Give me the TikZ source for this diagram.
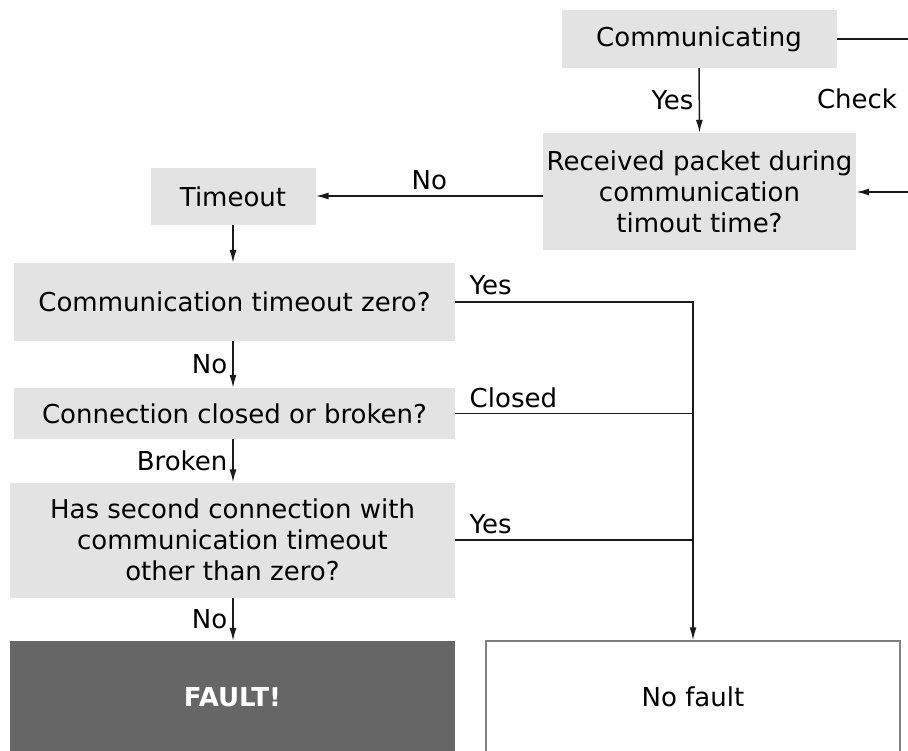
\documentclass[tikz,border=0pt]{standalone}
\usepackage{fontspec}
\setmainfont{DejaVu Sans}
\usetikzlibrary{arrows.meta,calc}
\definecolor{boxgray}{HTML}{E3E3E3}
\definecolor{faultgray}{HTML}{666666}
\definecolor{wiregray}{HTML}{1A1A1A}
\tikzset{
  box/.style={rectangle, fill=boxgray, inner sep=0pt, align=center},
  wire/.style={draw=wiregray, line width=1.5pt},
  arr/.style={wire, -{Latex[length=13pt,width=7pt]}},
  lbl/.style={inner sep=5pt}
}
\begin{document}
\begin{tikzpicture}[x=1pt,y=-1pt,font=\fontsize{26}{31}\selectfont]
  \useasboundingbox (0,0) rectangle (908,751);
  % boxes
  \node[box, minimum width=275, minimum height=58] (comm) at (699,39) {Communicating};
  \node[box, minimum width=313, minimum height=117] (recv) at (699.5,191.5)
    {Received packet during\\communication\\timout time?};
  \node[box, minimum width=165, minimum height=57] (tout) at (233,196.5) {Timeout};
  \node[box, minimum width=441, minimum height=78] (zero) at (234.5,302) {Communication timeout zero?};
  \node[box, minimum width=441, minimum height=51] (closed) at (234.5,413.5) {Connection closed or broken?};
  \node[box, minimum width=445, minimum height=115] (second) at (232.5,540)
    {Has second connection with\\communication timeout\\other than zero?};
  \node[box, fill=faultgray, text=white, font=\fontsize{26}{31}\selectfont\bfseries,
    minimum width=445, minimum height=112] (fault) at (232.5,697) {FAULT!};
  \node[rectangle, draw=gray, line width=1.5pt, inner sep=0pt,
    minimum width=414, minimum height=112] (nofault) at (693,697) {No fault};
  % check loop on the right
  \coordinate (chkA) at (908,39);
  \coordinate (chkB) at (908,192);
  \draw[wire] (comm.east) -- (chkA);
  \draw[arr] (chkB) -- (recv.east |- chkB);
  \node (check) at (857,99) {Check};
  % main flow
  \draw[arr] (comm.south) -- node[lbl, left] {Yes} (recv.north);
  \draw[arr] (recv.west |- 0,196) -- node[lbl, above] {No} (tout.east |- 0,196);
  \draw[arr] (tout.south) -- (tout.south |- zero.north);
  \draw[arr] (tout.south |- zero.south) -- node[lbl, left] {No} (tout.south |- closed.north);
  \draw[arr] (tout.south |- closed.south) -- node[lbl, left] {Broken} (tout.south |- second.north);
  \draw[arr] (tout.south |- second.south) -- node[lbl, left] {No} (tout.south |- fault.north);
  % branches to no fault
  \draw[arr] (zero.east) -- (zero.east -| nofault.north) -- (nofault.north);
  \draw[wire] (closed.east) -- (closed.east -| nofault.north);
  \draw[wire] (second.east) -- (second.east -| nofault.north);
  \node[anchor=base west] at ($(zero.east)+(11,-7)$) {Yes};
  \node[anchor=base west] at ($(closed.east)+(11,-6)$) {Closed};
  \node[anchor=base west] at ($(second.east)+(11,-7)$) {Yes};
\end{tikzpicture}
\end{document}
